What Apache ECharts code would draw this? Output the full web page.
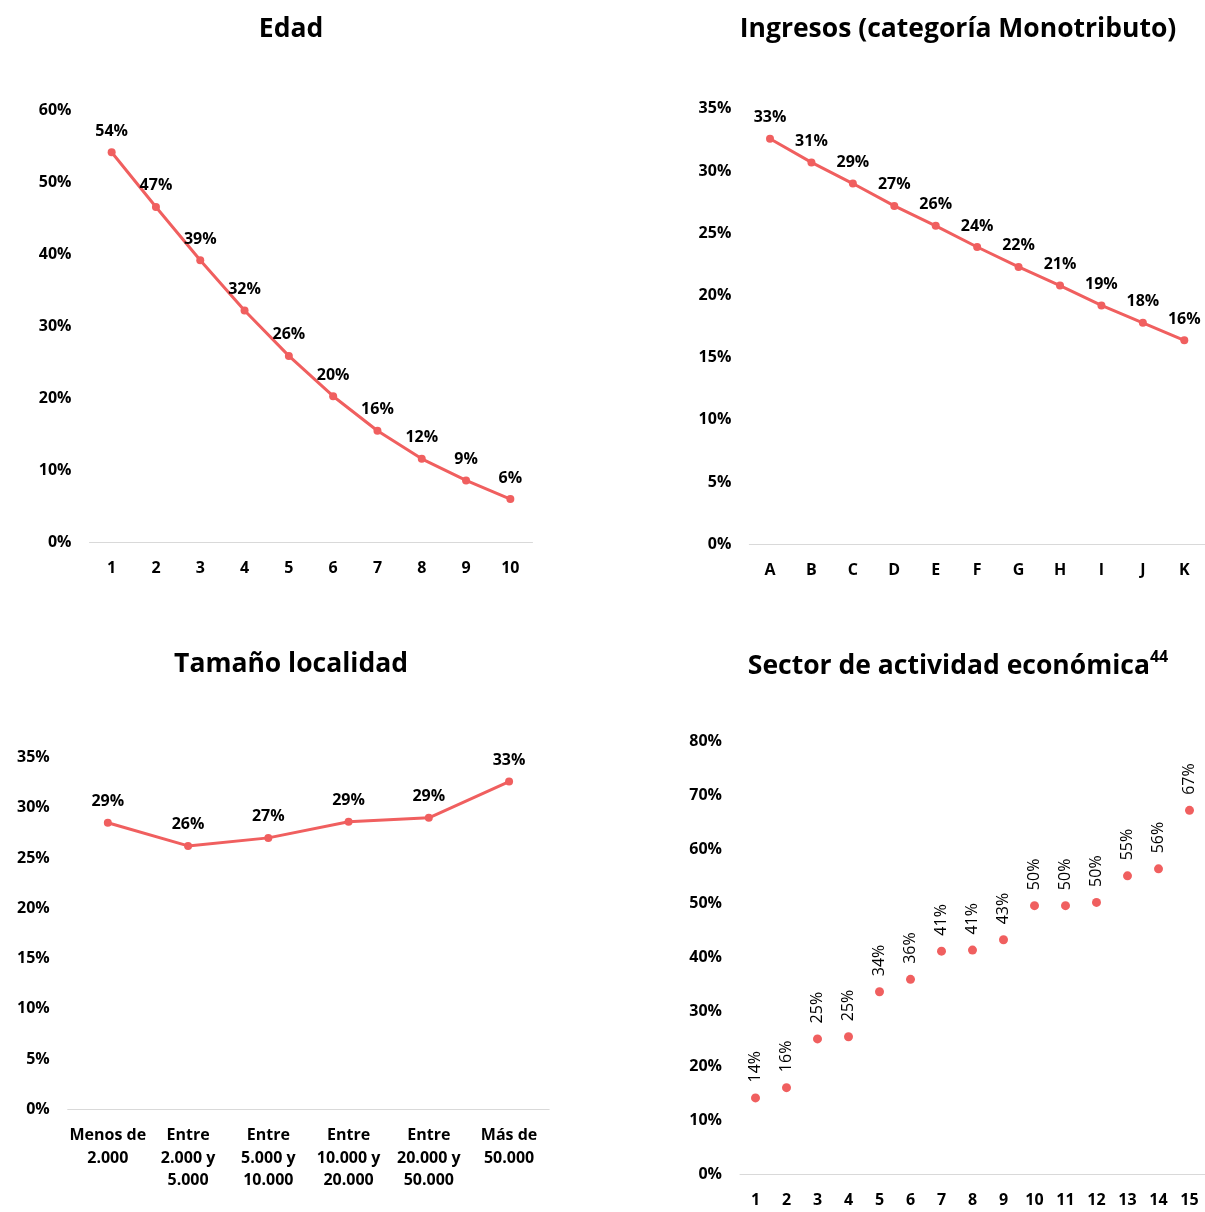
<!DOCTYPE html>
<html>
<head>
<meta charset="utf-8">
<script src="https://cdn.jsdelivr.net/npm/echarts@6/dist/echarts.min.js"></script>
<style>
  html, body { margin: 0; padding: 0; background: #ffffff; }
  #chart { width: 1205px; height: 1212px; }
</style>
</head>
<body>
<div id="chart"></div>
<script>
// Edad
const edadCats = ['1', '2', '3', '4', '5', '6', '7', '8', '9', '10'];
const edadVals = [54.2, 46.6, 39.2, 32.2, 25.9, 20.3, 15.5, 11.6, 8.6, 6.0];

// Ingresos (categoría Monotributo)
const ingresosCats = ['A', 'B', 'C', 'D', 'E', 'F', 'G', 'H', 'I', 'J', 'K'];
const ingresosVals = [32.6, 30.7, 29.0, 27.2, 25.6, 23.9, 22.3, 20.8, 19.2, 17.8, 16.4];

// Tamaño localidad
const localidadCats = [
  'Menos de\n2.000',
  'Entre\n2.000 y\n5.000',
  'Entre\n5.000 y\n10.000',
  'Entre\n10.000 y\n20.000',
  'Entre\n20.000 y\n50.000',
  'Más de\n50.000'
];
const localidadVals = [28.5, 26.2, 27.0, 28.6, 29.0, 32.6];

// Sector de actividad económica
const sectorCats = ['1', '2', '3', '4', '5', '6', '7', '8', '9', '10', '11', '12', '13', '14', '15'];
const sectorVals = [14.1, 16.0, 25.0, 25.4, 33.7, 36.0, 41.2, 41.4, 43.3, 49.6, 49.6, 50.2, 55.1, 56.4, 67.2];

// Value-axis ranges: [max, interval]
const edadRange = [60, 10];
const ingresosRange = [35, 5];
const localidadRange = [35, 5];
const sectorRange = [80, 10];

const FONT = '"Open Sans", Lato, "Noto Sans", sans-serif';
const RED = '#F05F5F';
const AXIS_GRAY = '#D9D9D9';

const pct = p => Math.round(p.value) + '%';

function valueAxis(gridIndex, range) {
  return {
    type: 'value', gridIndex: gridIndex,
    min: 0, max: range[0], interval: range[1],
    axisLine: { show: false }, axisTick: { show: false }, splitLine: { show: false },
    axisLabel: { formatter: '{value}%', color: '#000', fontFamily: FONT, fontWeight: 'bold', fontSize: 16, margin: 18 }
  };
}

function categoryAxis(gridIndex, data) {
  return {
    type: 'category', gridIndex: gridIndex, data: data, boundaryGap: true,
    axisLine: { show: true, lineStyle: { color: AXIS_GRAY, width: 1 } },
    axisTick: { show: false },
    axisLabel: { interval: 0, color: '#000', fontFamily: FONT, fontWeight: 'bold', fontSize: 16, margin: 15, lineHeight: 22.5 }
  };
}

function lineSeries(idx, data) {
  return {
    type: 'line', xAxisIndex: idx, yAxisIndex: idx, data: data,
    symbol: 'circle', symbolSize: 8,
    lineStyle: { color: RED, width: 3 },
    itemStyle: { color: RED },
    label: { show: true, position: 'top', distance: 9, formatter: pct,
             color: '#000', fontFamily: FONT, fontWeight: 'bold', fontSize: 16 },
    animation: false
  };
}

const titleStyle = { fontFamily: FONT, fontWeight: 'bold', fontSize: 26.5, color: '#000' };

const option = {
  backgroundColor: '#ffffff',
  animation: false,
  title: [
    { text: 'Edad', left: 286, top: 11, textAlign: 'center', textStyle: titleStyle },
    { text: 'Ingresos (categoría Monotributo)', left: 953, top: 11, textAlign: 'center', textStyle: titleStyle },
    { text: 'Tamaño localidad', left: 286, top: 646, textAlign: 'center', textStyle: titleStyle },
    {
      text: '{m|Sector de actividad económica}{s|44}', left: 953, top: 644, textAlign: 'center',
      textStyle: {
        rich: {
          m: { fontFamily: FONT, fontWeight: 'bold', fontSize: 26.5, color: '#000', lineHeight: 35 },
          s: { fontFamily: FONT, fontWeight: 'bold', fontSize: 16, color: '#000', verticalAlign: 'top', lineHeight: 18 }
        }
      }
    }
  ],
  grid: [
    { left: 89.5, top: 110.5, width: 443, height: 431.8 },
    { left: 749.3, top: 108.9, width: 457.6, height: 435.4 },
    { left: 67.7, top: 757.4, width: 481.5, height: 352.1 },
    { left: 740, top: 741, width: 465, height: 433.3 }
  ],
  xAxis: [
    categoryAxis(0, edadCats),
    categoryAxis(1, ingresosCats),
    categoryAxis(2, localidadCats),
    categoryAxis(3, sectorCats)
  ],
  yAxis: [
    valueAxis(0, edadRange),
    valueAxis(1, ingresosRange),
    valueAxis(2, localidadRange),
    valueAxis(3, sectorRange)
  ],
  series: [
    lineSeries(0, edadVals),
    lineSeries(1, ingresosVals),
    lineSeries(2, localidadVals),
    {
      type: 'scatter', xAxisIndex: 3, yAxisIndex: 3, data: sectorVals,
      symbol: 'circle', symbolSize: 9,
      itemStyle: { color: RED, opacity: 1 },
      label: { show: true, position: 'top', distance: 11, rotate: 90, align: 'left', verticalAlign: 'middle',
               formatter: pct, color: '#000', fontFamily: FONT, fontWeight: 'normal', fontSize: 16 },
      animation: false
    }
  ]
};

const chart = echarts.init(document.getElementById('chart'));
chart.setOption(option);
</script>
</body>
</html>
